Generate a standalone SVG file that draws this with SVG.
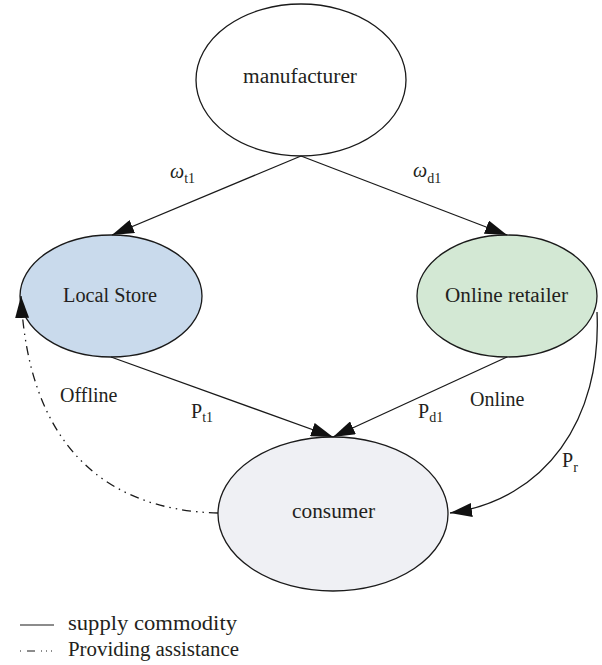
<svg xmlns="http://www.w3.org/2000/svg" width="602" height="665" viewBox="0 0 602 665">
<style>
.node{stroke:#1a1a1a;stroke-width:1.3}
.edge{fill:none;stroke:#1a1a1a;stroke-width:1.3}
.dd{stroke-dasharray:9,5,1.5,5,1.5,5}
text{font-family:"Liberation Serif","DejaVu Serif",serif;font-size:20px;fill:#231f20}
.c{text-anchor:middle}
.sub{font-size:14px}
</style>
<defs>
<marker id="ah" viewBox="0 0 22 14" refX="22" refY="7" markerWidth="22" markerHeight="14" markerUnits="userSpaceOnUse" orient="auto">
<path d="M0,0 L22,7 L0,14 Z" fill="#111"/>
</marker>
</defs>
<rect width="602" height="665" fill="#fff"/>
<g id="manufacturer"><ellipse class="node" cx="301" cy="80" rx="105" ry="76" fill="#fff"/><text x="243" y="83" textLength="114" lengthAdjust="spacingAndGlyphs">manufacturer</text></g>
<g id="local-store"><ellipse class="node" cx="111" cy="296" rx="91" ry="61" fill="#c9daec"/><text x="63" y="302" textLength="94" lengthAdjust="spacingAndGlyphs">Local Store</text></g>
<g id="online-retailer"><ellipse class="node" cx="507" cy="296" rx="90" ry="61" fill="#d3e8d4"/><text x="445" y="302" textLength="123" lengthAdjust="spacingAndGlyphs">Online retailer</text></g>
<g id="consumer"><ellipse class="node" cx="333" cy="514" rx="115" ry="77" fill="#eff0f4"/><text x="292" y="518" textLength="83" lengthAdjust="spacingAndGlyphs">consumer</text></g>
<g id="connectors">
<line class="edge" x1="301" y1="156" x2="112" y2="235" marker-end="url(#ah)"/>
<line class="edge" x1="301" y1="156" x2="507" y2="235" marker-end="url(#ah)"/>
<line class="edge" x1="111" y1="357" x2="333" y2="437" marker-end="url(#ah)"/>
<line class="edge" x1="507" y1="357" x2="333" y2="437" marker-end="url(#ah)"/>
<path class="edge" d="M597,312 C602,420 545,500 450,513" marker-end="url(#ah)"/>
<path class="edge dd" d="M218,513 C100,510 28,440 21,296" marker-end="url(#ah)"/>
</g>
<g id="labels">
<text x="170" y="178" font-style="italic">ω<tspan class="sub" dy="5" font-style="normal">t1</tspan></text>
<text x="413" y="177" font-style="italic">ω<tspan class="sub" dy="6" font-style="normal">d1</tspan></text>
<text x="60" y="402">Offline</text>
<text x="191" y="418">P<tspan class="sub" dy="4">t1</tspan></text>
<text x="418" y="418">P<tspan class="sub" dy="4">d1</tspan></text>
<text x="470" y="406">Online</text>
<text x="562" y="467">P<tspan class="sub" dy="5">r</tspan></text>
</g>
<g id="legend">
<line x1="20" y1="625" x2="54" y2="625" stroke="#1a1a1a" stroke-width="1.2"/>
<text x="68" y="630" font-size="19" textLength="169" lengthAdjust="spacingAndGlyphs">supply commodity</text>
<line x1="20" y1="651" x2="54" y2="651" stroke="#1a1a1a" stroke-width="1" stroke-dasharray="1,6,8,6,1,4,1,4,1,4"/>
<text x="68" y="656" font-size="19" textLength="171" lengthAdjust="spacingAndGlyphs">Providing assistance</text>
</g>
</svg>
